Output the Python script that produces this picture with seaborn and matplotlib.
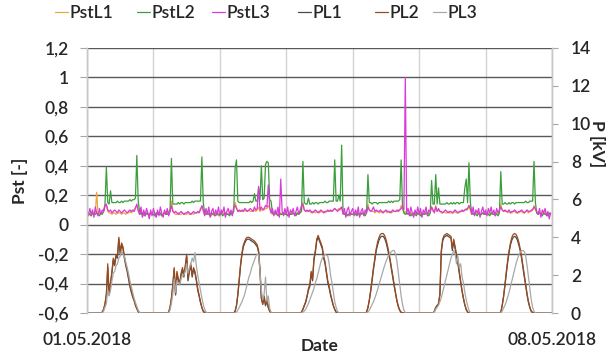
import numpy as np
import pandas as pd
import matplotlib
matplotlib.use("Agg")
import matplotlib.pyplot as plt
from matplotlib.ticker import FuncFormatter, FixedLocator
import seaborn as sns

# ---------------------------------------------------------------------------
# Flicker severity Pst (10-min aggregates resampled to 30 min), one row per day
# 01.05.2018 ... 07.05.2018, 48 values per day starting at 00:00
# ---------------------------------------------------------------------------
pst_l1 = [
    [.07, .08, .07, .06, .08, .07, .08, .22, .07, .08, .07, .08, .09, .12, .13, .09,
     .08, .08, .07, .08, .08, .07, .08, .08, .08, .07, .08, .08, .07, .08, .08, .09,
     .08, .09, .10, .12, .13, .09, .07, .08, .07, .06, .08, .07, .07, .06, .08, .07],
    [.07, .06, .08, .07, .08, .07, .06, .07, .08, .07, .08, .09, .10, .16, .10, .08,
     .07, .07, .08, .07, .07, .08, .07, .07, .07, .08, .07, .07, .08, .07, .08, .08,
     .08, .09, .11, .12, .09, .07, .08, .07, .08, .07, .06, .08, .07, .08, .07, .06],
    [.07, .08, .07, .08, .06, .08, .07, .08, .07, .08, .10, .15, .12, .09, .09, .09,
     .09, .09, .10, .09, .09, .10, .09, .09, .09, .10, .09, .10, .12, .09, .10, .10,
     .10, .11, .11, .13, .11, .08, .07, .08, .07, .08, .07, .06, .08, .07, .08, .07],
    [.08, .07, .06, .08, .07, .08, .07, .08, .07, .08, .09, .10, .15, .10, .09, .09,
     .09, .09, .08, .09, .09, .08, .09, .09, .08, .09, .09, .09, .08, .09, .09, .09,
     .09, .09, .10, .11, .10, .10, .11, .10, .12, .08, .07, .08, .07, .06, .08, .07],
    [.07, .08, .07, .08, .07, .06, .08, .07, .08, .07, .09, .14, .10, .09, .09, .09,
     .08, .09, .09, .08, .09, .08, .09, .09, .09, .08, .09, .09, .08, .09, .09, .09,
     .09, .10, .10, .13, .11, .08, .09, .07, .08, .07, .08, .07, .06, .08, .07, .08],
    [.07, .08, .06, .08, .07, .08, .07, .08, .08, .12, .09, .09, .13, .09, .10, .09,
     .08, .08, .09, .08, .08, .09, .08, .08, .08, .08, .09, .08, .08, .08, .09, .09,
     .09, .10, .11, .10, .13, .10, .07, .08, .07, .08, .07, .08, .06, .07, .08, .07],
    [.08, .07, .08, .07, .08, .07, .07, .06, .08, .07, .09, .14, .10, .09, .09, .09,
     .08, .09, .08, .08, .09, .09, .08, .08, .08, .09, .09, .08, .08, .09, .09, .08,
     .09, .09, .10, .13, .10, .08, .07, .08, .07, .08, .07, .08, .07, .06, .07, .07],
]

pst_l2 = [
    [.07, .08, .07, .06, .08, .07, .07, .08, .07, .06, .08, .07, .09, .14, .39, .15,
     .14, .23, .15, .15, .15, .15, .16, .15, .15, .16, .15, .16, .16, .16, .16, .17,
     .16, .17, .17, .18, .47, .16, .09, .07, .08, .07, .06, .08, .07, .07, .08, .07],
    [.07, .06, .08, .07, .07, .08, .06, .07, .08, .07, .07, .08, .09, .45, .14, .14,
     .14, .14, .15, .14, .15, .15, .14, .15, .15, .15, .15, .15, .16, .15, .16, .16,
     .16, .16, .16, .46, .15, .08, .07, .08, .07, .06, .08, .07, .07, .06, .08, .07],
    [.07, .08, .06, .07, .08, .07, .07, .06, .08, .07, .09, .38, .44, .16, .15, .15,
     .15, .15, .15, .15, .15, .15, .16, .15, .16, .21, .16, .16, .25, .17, .40, .17,
     .18, .41, .43, .42, .17, .16, .08, .07, .08, .07, .06, .08, .07, .07, .08, .07],
    [.07, .06, .08, .07, .07, .08, .07, .06, .08, .07, .08, .09, .43, .15, .14, .14,
     .18, .14, .14, .15, .14, .15, .15, .14, .15, .15, .15, .15, .16, .15, .15, .16,
     .16, .16, .16, .44, .16, .16, .20, .16, .54, .08, .07, .08, .06, .07, .08, .07],
    [.07, .08, .07, .06, .08, .07, .07, .08, .07, .06, .08, .34, .15, .15, .14, .15,
     .15, .15, .14, .15, .15, .15, .15, .15, .15, .15, .16, .15, .16, .15, .16, .16,
     .16, .16, .17, .44, .12, .08, .07, .08, .07, .08, .06, .07, .08, .07, .06, .08],
    [.07, .06, .08, .07, .07, .08, .07, .06, .08, .30, .14, .14, .34, .14, .25, .14,
     .14, .14, .14, .14, .15, .14, .14, .15, .14, .15, .14, .15, .15, .14, .15, .15,
     .15, .25, .31, .15, .42, .15, .08, .07, .08, .07, .06, .08, .07, .07, .08, .07],
    [.07, .08, .07, .06, .08, .07, .07, .08, .07, .06, .08, .36, .14, .14, .15, .14,
     .14, .15, .14, .15, .15, .14, .15, .15, .15, .15, .15, .15, .15, .16, .15, .15,
     .16, .16, .16, .43, .15, .08, .07, .08, .07, .06, .08, .07, .07, .06, .08, .07],
]

pst_l3 = [
    [.09, .06, .11, .07, .10, .05, .12, .08, .06, .11, .07, .10, .09, .13, .14, .10,
     .09, .10, .08, .09, .10, .09, .08, .10, .09, .08, .09, .10, .09, .08, .09, .10,
     .09, .10, .09, .11, .14, .10, .07, .12, .05, .10, .06, .11, .08, .04, .10, .06],
    [.11, .07, .05, .10, .06, .12, .08, .05, .10, .07, .11, .06, .09, .13, .09, .08,
     .09, .08, .07, .08, .09, .08, .07, .08, .08, .09, .08, .07, .08, .09, .08, .08,
     .09, .08, .10, .13, .10, .06, .11, .07, .12, .05, .09, .11, .06, .10, .07, .12],
    [.06, .10, .08, .12, .05, .09, .11, .07, .10, .06, .12, .13, .11, .09, .10, .09,
     .10, .09, .11, .10, .09, .10, .11, .10, .09, .12, .10, .11, .26, .10, .12, .10,
     .11, .13, .12, .27, .12, .08, .11, .06, .10, .07, .12, .05, .31, .09, .06, .11],
    [.07, .12, .05, .10, .08, .11, .06, .09, .12, .07, .10, .13, .14, .10, .09, .10,
     .09, .10, .09, .08, .09, .10, .09, .08, .09, .10, .09, .08, .09, .09, .10, .09,
     .10, .09, .10, .11, .10, .09, .10, .11, .12, .07, .11, .05, .10, .12, .06, .09],
    [.11, .06, .10, .07, .12, .05, .09, .11, .06, .10, .08, .12, .10, .09, .10, .12,
     .09, .10, .09, .09, .10, .09, .08, .09, .10, .09, .09, .08, .09, .10, .09, .09,
     .10, .09, .10, .11, .12, .10, 1.00, .08, .11, .06, .12, .08, .05, .10, .07, .12],
    [.07, .11, .05, .10, .08, .12, .06, .10, .09, .12, .10, .08, .12, .09, .11, .09,
     .09, .08, .09, .10, .09, .08, .09, .09, .08, .09, .10, .09, .08, .09, .09, .10,
     .09, .10, .10, .11, .13, .11, .07, .12, .06, .10, .08, .11, .05, .09, .12, .07],
    [.10, .06, .11, .08, .12, .07, .10, .06, .11, .08, .10, .12, .10, .09, .10, .09,
     .09, .10, .08, .09, .09, .10, .09, .08, .09, .09, .10, .09, .08, .09, .10, .09,
     .09, .10, .10, .12, .11, .09, .07, .11, .05, .10, .08, .11, .06, .09, .04, .08],
]

# ---------------------------------------------------------------------------
# PV feed-in power P [kV] per phase, daytime window 05:00 ... 20:00 (30 min),
# 31 values per day; the rest of the day is zero
# ---------------------------------------------------------------------------
p_l1 = [
    [0, .04, .18, .45, .95, 2.4, .95, 1.5, 2.1, 2.8, 2.5, 3.0, 2.9, 3.9, 3.1, 3.6,
     3.4, 2.9, 2.5, 2.2, 1.8, 1.4, 1.1, .85, .65, .4, .22, .07, 0, 0, 0],
    [0, .04, .28, .75, 1.4, 2.3, .95, 2.1, 1.7, 1.5, 2.0, 2.3, 1.9, 2.4, 3.0, 1.7,
     2.2, 2.5, 1.9, 2.3, 2.1, 1.7, 1.2, .9, .55, .28, .09, .02, 0, 0, 0],
    [0, .09, .38, .95, 1.75, 2.5, 3.1, 3.5, 3.7, 3.85, 3.9, 3.9, 3.85, 3.8, 3.75, 3.7,
     3.6, 3.5, 3.2, 2.2, .75, .45, .85, .38, .65, .28, .09, 0, 0, 0, 0],
    [0, .04, .18, .38, .55, .85, 1.2, 1.4, 2.1, 1.7, 2.8, 3.2, 3.8, 4.0, 3.8, 3.6,
     3.4, 2.9, 2.6, 2.1, 1.6, 1.3, .95, .65, .38, .18, .04, 0, 0, 0, 0],
    [.04, .28, .65, 1.15, 1.7, 2.3, 2.8, 3.3, 3.6, 3.85, 4.0, 4.05, 4.05, 3.95, 3.75, 3.45,
     3.1, 2.75, 2.3, 1.85, 1.4, 1.0, .6, .32, .13, .03, 0, 0, 0, 0, 0],
    [0, .08, .28, .38, .48, .95, 3.2, 3.8, 4.0, 4.05, 4.1, 4.05, 4.0, 3.95, 3.3, 3.8,
     3.4, 3.0, 2.6, 2.1, 1.6, 1.15, .75, .42, .18, .05, 0, 0, 0, 0, 0],
    [0, .04, .38, .85, 1.45, 2.1, 2.7, 3.2, 3.6, 3.85, 4.0, 4.05, 4.0, 3.85, 3.6, 3.3,
     2.9, 2.4, 1.9, 1.45, .95, .55, .28, .09, .02, 0, 0, 0, 0, 0, 0],
]

p_l2 = [
    [0, .05, .2, .5, 1.0, 2.6, 1.0, 1.6, 2.2, 2.9, 2.6, 3.1, 3.0, 4.0, 3.2, 3.7,
     3.5, 3.0, 2.6, 2.3, 1.9, 1.5, 1.2, .9, .7, .45, .25, .08, 0, 0, 0],
    [0, .05, .3, .8, 1.5, 2.4, 1.0, 2.2, 1.8, 1.6, 2.1, 2.4, 2.0, 2.5, 3.1, 1.8,
     2.3, 2.6, 2.0, 2.4, 2.2, 1.8, 1.3, .95, .6, .3, .1, .02, 0, 0, 0],
    [0, .1, .4, 1.0, 1.8, 2.6, 3.2, 3.6, 3.8, 3.95, 4.0, 4.0, 3.95, 3.9, 3.85, 3.8,
     3.7, 3.6, 3.3, 2.3, .8, .5, .9, .4, .7, .3, .1, 0, 0, 0, 0],
    [0, .05, .2, .4, .6, .9, 1.3, 1.5, 2.2, 1.8, 2.9, 3.3, 3.9, 4.1, 3.9, 3.7,
     3.5, 3.0, 2.7, 2.2, 1.7, 1.4, 1.0, .7, .4, .2, .05, 0, 0, 0, 0],
    [.05, .3, .7, 1.2, 1.8, 2.4, 2.9, 3.4, 3.75, 4.0, 4.15, 4.2, 4.2, 4.1, 3.9, 3.6,
     3.25, 2.85, 2.4, 1.95, 1.5, 1.05, .65, .35, .15, .04, 0, 0, 0, 0, 0],
    [0, .1, .3, .4, .5, 1.0, 3.3, 3.9, 4.1, 4.15, 4.2, 4.15, 4.1, 4.05, 3.4, 3.9,
     3.5, 3.1, 2.7, 2.2, 1.7, 1.2, .8, .45, .2, .06, 0, 0, 0, 0, 0],
    [0, .05, .4, .9, 1.5, 2.2, 2.8, 3.3, 3.7, 4.0, 4.15, 4.2, 4.15, 4.0, 3.75, 3.4,
     3.0, 2.5, 2.0, 1.5, 1.0, .6, .3, .1, .03, 0, 0, 0, 0, 0, 0],
]

p_l3 = [
    [0, 0, .1, .3, .5, 1.2, .9, 1.2, 1.7, 2.1, 2.2, 2.5, 2.6, 2.9, 3.0, 3.3,
     3.1, 3.0, 2.7, 2.4, 2.1, 1.7, 1.4, 1.1, .8, .55, .35, .15, .03, 0, 0],
    [0, 0, .15, .5, 1.0, 1.8, 1.1, 1.7, 1.6, 1.5, 1.8, 2.0, 2.0, 2.2, 2.6, 2.1,
     2.4, 2.6, 2.9, 2.7, 3.2, 2.5, 2.0, 1.6, 1.2, .8, .45, .2, .05, 0, 0],
    [0, 0, .05, .15, .3, .45, .6, .8, 1.0, 1.3, 1.6, 1.9, 2.1, 2.4, 2.6, 2.8,
     3.0, 3.1, 3.1, 2.2, 1.2, .7, 1.0, 1.9, .6, .9, .25, .05, 0, 0, 0],
    [0, 0, .05, .1, .2, .35, .5, .7, .9, 1.1, 1.3, 1.6, 1.8, 2.1, 2.4, 2.7,
     2.9, 3.0, 3.1, 3.05, 3.0, 2.6, 2.0, 1.6, 1.1, .6, .3, .1, 0, 0, 0],
    [0, .05, .15, .3, .45, .6, .8, 1.0, 1.25, 1.5, 1.75, 2.0, 2.25, 2.5, 2.7, 2.9,
     3.05, 3.15, 3.25, 3.3, 3.3, 3.1, 2.7, 2.1, 1.5, .9, .45, .15, .02, 0, 0],
    [0, .05, .2, .3, .4, .6, .8, 1.1, 1.4, 1.7, 2.0, 2.3, 2.6, 2.9, 3.1, 3.3,
     3.1, 2.6, 3.0, 2.4, 2.6, 1.9, 1.6, 1.1, .7, .4, .15, .03, 0, 0, 0],
    [0, 0, .1, .25, .4, .6, .85, 1.1, 1.4, 1.7, 2.0, 2.3, 2.6, 2.85, 3.05, 3.2,
     3.3, 3.3, 3.25, 3.0, 2.5, 1.9, 1.3, .7, .3, .08, 0, 0, 0, 0, 0],
]

dates = pd.date_range("2018-05-01", periods=8, freq="D").strftime("%d.%m.%Y").tolist()

pst_names = ["PstL1", "PstL2", "PstL3"]
p_names = ["PL1", "PL2", "PL3"]
pst_colors = ["#EBA83A", "#3A9E3A", "#D93AD9"]
p_colors = ["#4A4A4A", "#9A4A1C", "#A8A8A8"]

STEPS_PER_DAY = 48
DAY_START_IDX = 10  # 05:00 in 30-min steps


def pst_frame(rows, name):
    recs = []
    for d, row in enumerate(rows):
        for i, v in enumerate(row):
            recs.append((d + i / STEPS_PER_DAY, v))
    df = pd.DataFrame(recs, columns=["day", "value"])
    df["series"] = name
    return df


def power_frame(rows, name):
    recs = []
    for d, row in enumerate(rows):
        full = np.zeros(STEPS_PER_DAY)
        full[DAY_START_IDX:DAY_START_IDX + len(row)] = row
        for i, v in enumerate(full):
            recs.append((d + i / STEPS_PER_DAY, v))
    recs.append((len(rows), 0.0))
    df = pd.DataFrame(recs, columns=["day", "value"])
    df["series"] = name
    return df


sns.set_theme(style="white")
plt.rcParams["font.family"] = ["Lato", "DejaVu Sans"]
plt.rcParams["axes.unicode_minus"] = False

W, H = 614, 353
fig = plt.figure(figsize=(W / 100, H / 100), dpi=100)
ax = fig.add_axes([87 / W, 40 / H, 465 / W, 265 / H])
ax2 = ax.twinx()

for rows, name, col in zip([pst_l1, pst_l2, pst_l3], pst_names, pst_colors):
    sns.lineplot(data=pst_frame(rows, name), x="day", y="value", ax=ax,
                 color=col, linewidth=0.9, label=name, estimator=None, sort=False)

for rows, name, col in zip([p_l1, p_l2, p_l3], p_names, p_colors):
    sns.lineplot(data=power_frame(rows, name), x="day", y="value", ax=ax2,
                 color=col, linewidth=0.9, label=name, estimator=None, sort=False)

for a in (ax, ax2):
    if a.get_legend() is not None:
        a.get_legend().remove()

# axes ranges and ticks
ax.set_xlim(0, 7)
ax.set_ylim(-0.6, 1.2)
ax2.set_ylim(0, 14)

ax.yaxis.set_major_locator(FixedLocator(np.round(np.arange(-0.6, 1.21, 0.2), 1)))
ax2.yaxis.set_major_locator(FixedLocator(np.arange(0, 15, 2)))


def comma_fmt(v, _pos):
    s = f"{round(v, 1):g}".replace(".", ",")
    return "0" if s == "-0" else s


ax.yaxis.set_major_formatter(FuncFormatter(comma_fmt))
ax2.yaxis.set_major_formatter(FuncFormatter(lambda v, p: f"{v:g}"))

ax.set_xticks(range(8))
ax.set_xticklabels([lab if i in (0, 7) else "" for i, lab in enumerate(dates)])

tick_font = 12.5
ax.tick_params(axis="y", which="major", direction="out", length=5, width=0.8,
               color="#A6A6A6", pad=8, labelsize=tick_font, left=True)
ax.tick_params(axis="x", which="major", length=0, pad=14, labelsize=tick_font)
ax2.tick_params(axis="y", which="major", direction="out", length=4.5, width=0.8,
                color="#A6A6A6", pad=9, labelsize=tick_font, right=True)
for lab in ax.get_xticklabels() + ax.get_yticklabels() + ax2.get_yticklabels():
    lab.set_fontweight("semibold")

# gridlines: dark horizontal, light vertical
ax.grid(True, axis="y", color="#595959", linewidth=1.0)
ax.grid(True, axis="x", color="#D4D4D4", linewidth=1.0)
ax.set_axisbelow(True)

for a in (ax, ax2):
    a.spines["top"].set_visible(False)
    a.spines["bottom"].set_visible(False)
    a.spines["left"].set_color("#C8C8C8")
    a.spines["right"].set_color("#C8C8C8")
    a.spines["left"].set_linewidth(1.0)
    a.spines["right"].set_linewidth(1.0)

ax.set_xlabel("Date", fontsize=12.5, fontweight="bold", va="top")
ax.xaxis.set_label_coords(0.5, (313 - 338) / 265)
ax.set_ylabel("Pst [-]", fontsize=12.5, fontweight="bold", va="center")
ax.yaxis.set_label_coords((20 - 87) / 465, 0.5)
ax2.set_ylabel("P [kV]", fontsize=12.5, fontweight="bold", rotation=270, va="center")
ax2.yaxis.set_label_coords((597 - 87) / 465, (313 - 144) / 265)

# legend row above the plot: one entry per series, left edges in pixels
handles, labels = [], []
for a in (ax, ax2):
    h, l = a.get_legend_handles_labels()
    handles += h
    labels += l
entry_left_px = [55, 137, 212, 298, 375, 433]
for h, l, xpx in zip(handles, labels, entry_left_px):
    fig.legend([h], [l], loc="center left", bbox_to_anchor=(xpx / W, 1 - 13 / H),
               frameon=False, prop={"size": 12.5, "weight": "semibold"},
               handlelength=0.75, handletextpad=0.1, borderpad=0, borderaxespad=0)

fig.savefig("out.png", dpi=100)
